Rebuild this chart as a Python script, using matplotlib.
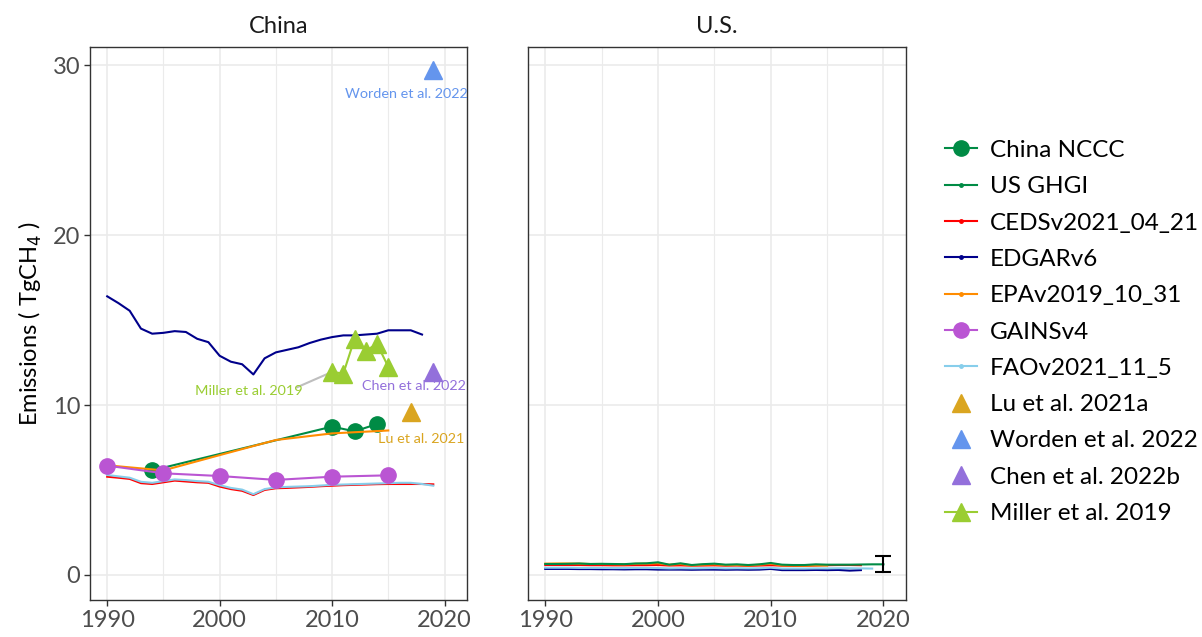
"""
China / U.S. methane emission inventories vs inversions
"""

import matplotlib.pyplot as plt
from matplotlib.lines import Line2D
import numpy as np

plt.rcParams['font.family'] = ['Lato', 'DejaVu Sans']

# ---- China ----
cn_nccc_years = [1994, 2010, 2012, 2014]
cn_nccc = [6.15, 8.73, 8.45, 8.88]

cn_edgar_years = np.arange(1990, 2019)
cn_edgar = [16.4, 16.0, 15.55, 14.5, 14.2, 14.25, 14.35, 14.3, 13.9, 13.7,
            12.9, 12.55, 12.4, 11.8, 12.75, 13.1, 13.25, 13.4, 13.65, 13.85,
            14.0, 14.1, 14.1, 14.15, 14.2, 14.4, 14.4, 14.4, 14.15]

cn_ceds_years = np.arange(1990, 2020)
cn_ceds = [5.78, 5.72, 5.65, 5.4, 5.35, 5.45, 5.55, 5.5, 5.45, 5.42,
           5.2, 5.05, 4.95, 4.7, 5.0, 5.1, 5.12, 5.15, 5.18, 5.22,
           5.25, 5.28, 5.3, 5.32, 5.34, 5.35, 5.35, 5.35, 5.35, 5.33]

cn_fao_years = np.arange(1990, 2020)
cn_fao = [5.88, 5.8, 5.72, 5.48, 5.42, 5.52, 5.62, 5.58, 5.52, 5.48,
          5.28, 5.12, 5.02, 4.75, 5.05, 5.15, 5.18, 5.2, 5.22, 5.26,
          5.3, 5.32, 5.34, 5.36, 5.38, 5.4, 5.42, 5.42, 5.35, 5.25]

cn_epa_years = [1990, 1995, 2000, 2005, 2010, 2015]
cn_epa = [6.45, 6.15, 7.05, 7.94, 8.33, 8.5]

cn_gains_years = [1990, 1995, 2000, 2005, 2010, 2015]
cn_gains = [6.43, 5.98, 5.82, 5.59, 5.78, 5.86]

miller_years = [2010, 2011, 2012, 2013, 2014, 2015]
miller = [11.95, 11.85, 13.9, 13.2, 13.6, 12.25]

lu_year, lu_val = 2017, 9.6
worden_year, worden_val = 2019, 29.7
chen_year, chen_val = 2019, 11.95

# ---- U.S. ----
us_ghgi_years = np.arange(1990, 2021)
us_ghgi = [0.64, 0.64, 0.65, 0.67, 0.64, 0.65, 0.64, 0.63, 0.67, 0.68,
           0.74, 0.6, 0.68, 0.58, 0.63, 0.66, 0.6, 0.62, 0.58, 0.62,
           0.7, 0.6, 0.58, 0.58, 0.62, 0.6, 0.6, 0.6, 0.61, 0.62, 0.62]

us_epa_years = np.arange(1990, 2016)
us_epa = [0.66, 0.67, 0.67, 0.66, 0.64, 0.64, 0.63, 0.62, 0.65, 0.66,
          0.68, 0.6, 0.64, 0.56, 0.6, 0.62, 0.57, 0.58, 0.55, 0.6,
          0.66, 0.56, 0.55, 0.54, 0.56, 0.55]

us_ceds_years = np.arange(1990, 2019)
us_ceds = [0.58, 0.58, 0.58, 0.58, 0.57, 0.57, 0.56, 0.56, 0.57, 0.57,
           0.58, 0.55, 0.56, 0.54, 0.55, 0.56, 0.54, 0.55, 0.53, 0.55,
           0.57, 0.54, 0.53, 0.53, 0.55, 0.57, 0.58, 0.58, 0.57]

us_fao_years = np.arange(1990, 2020)
us_fao = [0.42, 0.42, 0.42, 0.41, 0.41, 0.41, 0.4, 0.4, 0.41, 0.41,
          0.4, 0.38, 0.39, 0.38, 0.39, 0.4, 0.38, 0.39, 0.38, 0.39,
          0.42, 0.37, 0.37, 0.37, 0.38, 0.38, 0.39, 0.39, 0.38, 0.37]

us_edgar_years = np.arange(1990, 2019)
us_edgar = [0.35, 0.35, 0.35, 0.34, 0.34, 0.33, 0.33, 0.32, 0.33, 0.33,
            0.31, 0.31, 0.31, 0.3, 0.31, 0.31, 0.3, 0.31, 0.3, 0.31,
            0.35, 0.28, 0.28, 0.28, 0.29, 0.28, 0.29, 0.25, 0.28]

us_err_year, us_err_mid, us_err_lo, us_err_hi = 2020, 0.64, 0.16, 1.12

# colours
C_NCCC = '#008B45'
C_GHGI = '#008B45'
C_CEDS = '#FF0000'
C_EDGAR = '#00008B'
C_EPA = '#FF8C00'
C_GAINS = '#BA55D3'
C_FAO = '#87CEEB'
C_LU = '#DAA520'
C_WORDEN = '#6495ED'
C_CHEN = '#9370DB'
C_MILLER = '#9ACD32'

fig = plt.figure(figsize=(12.02, 6.37), dpi=100)
ax1 = fig.add_axes([90 / 1202, 37 / 637, 377 / 1202, 553 / 637])
ax2 = fig.add_axes([528 / 1202, 37 / 637, 378 / 1202, 553 / 637], sharey=ax1)

lw = 1.5

# China panel
ax1.plot(cn_edgar_years, cn_edgar, color=C_EDGAR, lw=lw, zorder=3)
ax1.plot(cn_ceds_years, cn_ceds, color=C_CEDS, lw=lw, zorder=3)
ax1.plot(cn_fao_years, cn_fao, color=C_FAO, lw=lw, zorder=3)
ax1.plot(cn_nccc_years, cn_nccc, color=C_NCCC, lw=lw, marker='o', ms=11, zorder=4)
ax1.plot(cn_epa_years, cn_epa, color=C_EPA, lw=lw, zorder=4)
ax1.plot(cn_gains_years, cn_gains, color=C_GAINS, lw=lw, marker='o', ms=11, zorder=4)
ax1.plot(miller_years, miller, color=C_MILLER, lw=lw, marker='^', ms=13, zorder=5)
ax1.plot([lu_year], [lu_val], ls='none', color=C_LU, marker='^', ms=13, zorder=5)
ax1.plot([worden_year], [worden_val], ls='none', color=C_WORDEN, marker='^', ms=13, zorder=5)
ax1.plot([chen_year], [chen_val], ls='none', color=C_CHEN, marker='^', ms=13, zorder=5)

# labels for inversion studies
lab_fs = 10.4
ax1.text(2016.6, 28.3, 'Worden et al. 2022', color=C_WORDEN, fontsize=lab_fs,
         ha='center', va='center', zorder=6)
ax1.text(2017.3, 11.1, 'Chen et al. 2022', color=C_CHEN, fontsize=lab_fs,
         ha='center', va='center', zorder=6)
ax1.text(2017.9, 8.0, 'Lu et al. 2021', color=C_LU, fontsize=lab_fs,
         ha='center', va='center', zorder=6)
ax1.text(2002.6, 10.8, 'Miller et al. 2019', color=C_MILLER, fontsize=lab_fs,
         ha='center', va='center', zorder=6)
ax1.plot([2006.9, 2010], [11.05, 11.95], color='#BEBEBE', lw=1.5, zorder=4)

# U.S. panel
ax2.plot(us_edgar_years, us_edgar, color=C_EDGAR, lw=lw, zorder=3)
ax2.plot(us_fao_years, us_fao, color=C_FAO, lw=lw, zorder=3)
ax2.plot(us_ceds_years, us_ceds, color=C_CEDS, lw=lw, zorder=3)
ax2.plot(us_epa_years, us_epa, color=C_EPA, lw=lw, zorder=3)
ax2.plot(us_ghgi_years, us_ghgi, color=C_GHGI, lw=lw, zorder=4)
ax2.errorbar([us_err_year], [us_err_mid],
             yerr=[[us_err_mid - us_err_lo], [us_err_hi - us_err_mid]],
             fmt='none', ecolor='black', elinewidth=1.5, capsize=6, capthick=1.5, zorder=5)

for ax, title in [(ax1, 'China'), (ax2, 'U.S.')]:
    ax.set_xlim(1988.47, 2022.0)
    ax.set_ylim(-1.48, 31.08)
    ax.set_xticks([1990, 2000, 2010, 2020])
    ax.set_xticks([1995, 2005, 2015], minor=True)
    ax.set_yticks([0, 10, 20, 30])
    ax.grid(which='major', color='#EBEBEB', lw=1.2, zorder=0)
    ax.grid(which='minor', axis='x', color='#EBEBEB', lw=0.8, zorder=0)
    ax.set_axisbelow(True)
    for s in ax.spines.values():
        s.set_color('#333333')
        s.set_linewidth(1.0)
    ax.tick_params(which='major', length=4, width=1, color='#333333',
                   labelsize=17, labelcolor='#4D4D4D', pad=3)
    ax.tick_params(which='minor', length=0)
    ax.set_title(title, fontsize=17, color='#1A1A1A', pad=10)

ax2.tick_params(axis='y', left=False, labelleft=False)
ax1.set_ylabel('Emissions ( TgCH$_4$ )', fontsize=17, color='black', labelpad=6)

handles = [
    Line2D([], [], color=C_NCCC, lw=lw, marker='o', ms=11),
    Line2D([], [], color=C_GHGI, lw=lw, marker='o', ms=2.5),
    Line2D([], [], color=C_CEDS, lw=lw, marker='o', ms=2.5),
    Line2D([], [], color=C_EDGAR, lw=lw, marker='o', ms=2.5),
    Line2D([], [], color=C_EPA, lw=lw, marker='o', ms=2.5),
    Line2D([], [], color=C_GAINS, lw=lw, marker='o', ms=11),
    Line2D([], [], color=C_FAO, lw=lw, marker='o', ms=2.5),
    Line2D([], [], color=C_LU, ls='none', marker='^', ms=13),
    Line2D([], [], color=C_WORDEN, ls='none', marker='^', ms=13),
    Line2D([], [], color=C_CHEN, ls='none', marker='^', ms=13),
    Line2D([], [], color=C_MILLER, lw=lw, marker='^', ms=13),
]
labels = ['China NCCC', 'US GHGI', 'CEDSv2021_04_21', 'EDGARv6', 'EPAv2019_10_31',
          'GAINSv4', 'FAOv2021_11_5', 'Lu et al. 2021a', 'Worden et al. 2022',
          'Chen et al. 2022b', 'Miller et al. 2019']
fig.legend(handles, labels, loc='center left', bbox_to_anchor=(945 / 1202, 305 / 637),
           frameon=False, fontsize=17.5, handlelength=1.3, handletextpad=0.55,
           labelspacing=0.63, borderpad=0, borderaxespad=0)

plt.savefig('out.png', dpi=100)
